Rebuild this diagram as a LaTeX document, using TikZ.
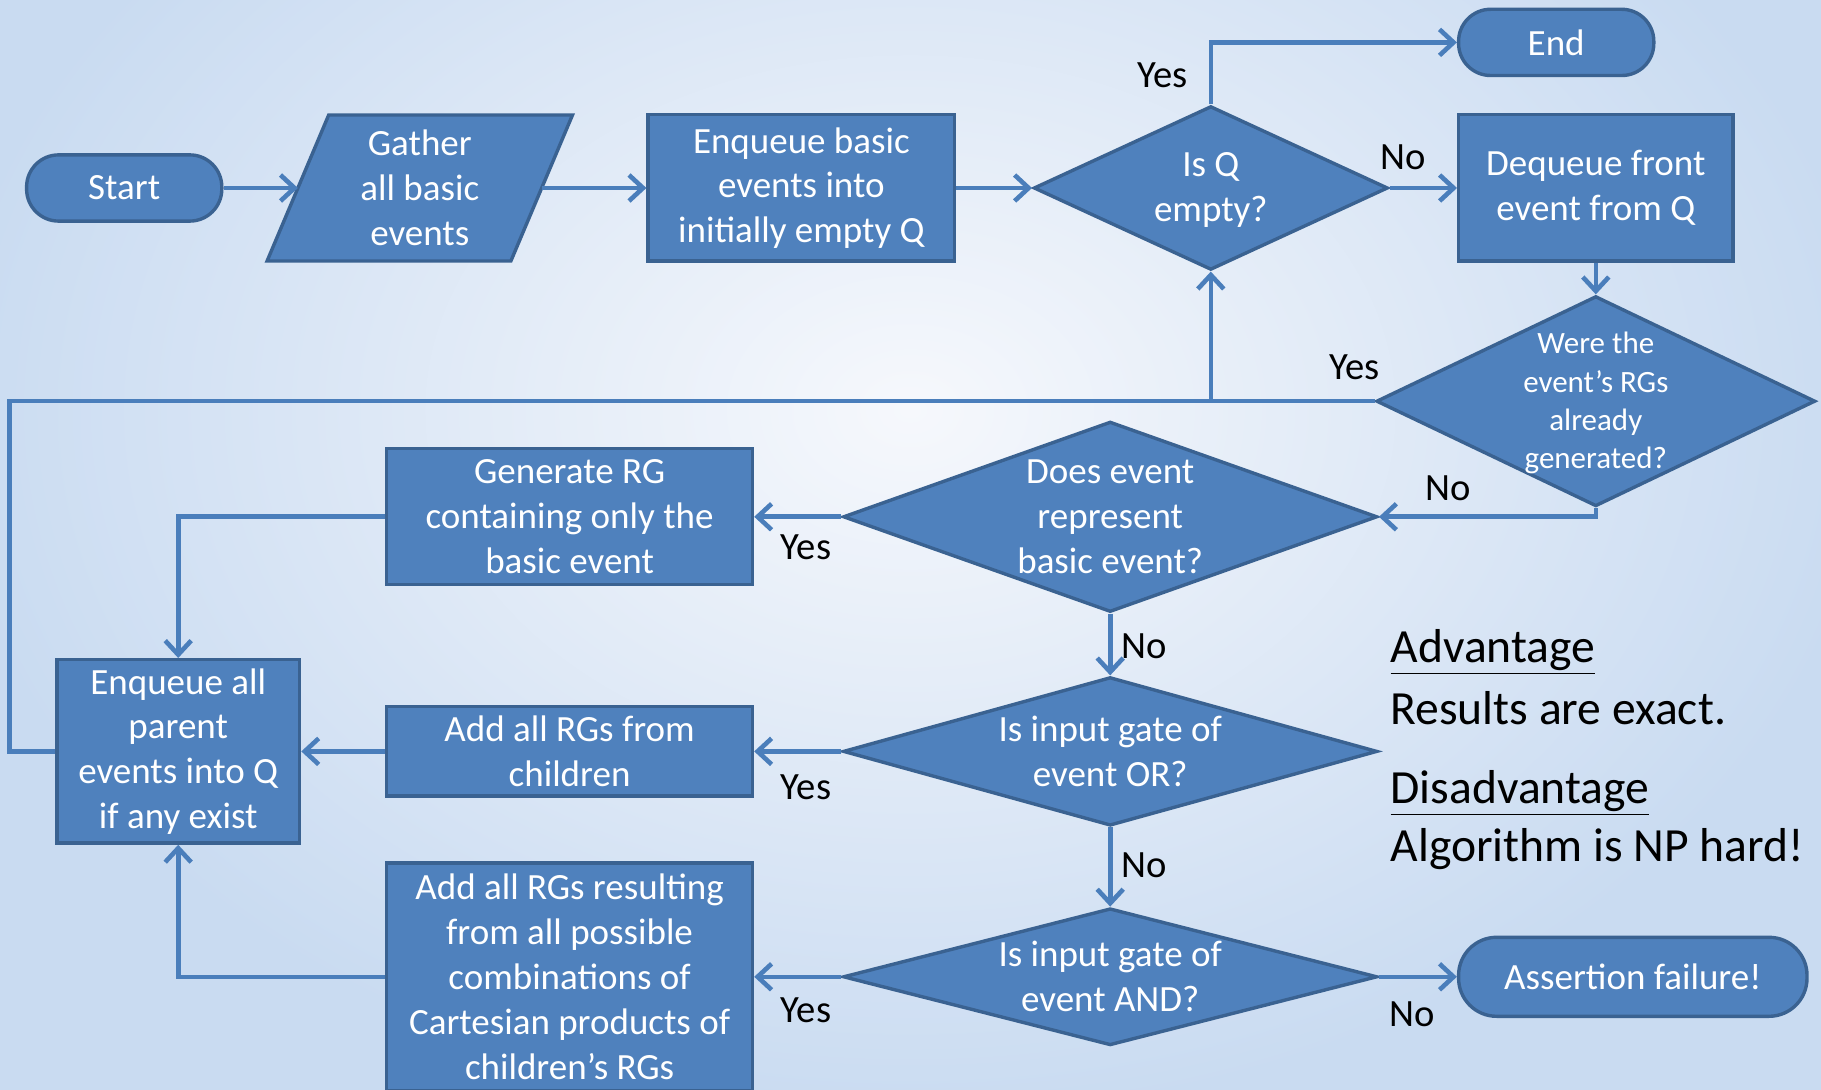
\documentclass[tikz,border=0pt]{standalone}
\usepackage{fontspec}
\setmainfont{Carlito}
\usetikzlibrary{shapes.geometric,arrows.meta,calc}
\pgfdeclarelayer{background}
\pgfsetlayers{background,main}

\definecolor{boxfill}{HTML}{4F81BD}
\definecolor{boxline}{HTML}{3A6291}
\definecolor{connline}{HTML}{4A7EBB}
\definecolor{bgedge}{HTML}{C9DBF1}
\definecolor{bgmid}{HTML}{F6F8FC}

\tikzset{
  box/.style={rectangle, draw=boxline, fill=boxfill, line width=1.7pt,
    text=white, align=center, inner sep=0pt,
    font=\fontsize{18.5}{22.4}\selectfont},
  term/.style={box, rounded corners=16pt},
  decision/.style={diamond, draw=boxline, fill=boxfill, line width=1.7pt,
    inner sep=0pt},
  dtxt/.style={text=white, align=center, inner sep=0pt,
    font=\fontsize{18.5}{22.4}\selectfont},
  dsmall/.style={dtxt, font=\fontsize{15.5}{19.2}\selectfont},
  conn/.style={draw=connline, line width=2.3pt},
  arr/.style={conn, -{Straight Barb[length=7pt,width=13pt]}},
  ans/.style={text=black, inner sep=0pt, font=\fontsize{19.3}{22}\selectfont},
  note/.style={text=black, inner sep=0pt, anchor=west,
    font=\fontsize{23.8}{28}\selectfont}
}

\begin{document}
\begin{tikzpicture}[x=1pt,y=-1pt]
\useasboundingbox (0,0) rectangle (910.5,545);
\begin{pgfonlayer}{background}
  \shade[inner color=bgmid, outer color=bgedge] (-30,-150) rectangle (940,560);
\end{pgfonlayer}

% top row
\node[term, minimum width=97.6pt, minimum height=33.1pt] (start) at (62.1,94.0) {Start};
\node[inner sep=0pt, outer sep=0pt, minimum width=121.9pt, minimum height=73pt,
      text=white, align=center, font=\fontsize{18.5}{22.4}\selectfont]
      (gather) at (209.9,94.0) {Gather\\all basic\\events};
\begin{pgfonlayer}{background}
  \filldraw[draw=boxline, fill=boxfill, line width=1.7pt]
    ([xshift=15.4pt]gather.north west) -- ([xshift=15.4pt]gather.north east)
    -- ([xshift=-15.4pt]gather.south east) -- ([xshift=-15.4pt]gather.south west) -- cycle;
\end{pgfonlayer}
\node[box, minimum width=153.3pt, minimum height=73.2pt] (enq) at (400.7,94.0)
  {Enqueue basic\\events into\\initially empty Q};
\node[decision, minimum width=177.1pt, minimum height=81.9pt,
      label={[dtxt, yshift=-1pt]center:{Is Q\\empty?}}] (isq) at (605.4,94.0) {};
\node[term, minimum width=97.6pt, minimum height=33.1pt] (end) at (778.1,21.2) {End};
\node[box, minimum width=137.1pt, minimum height=73.2pt] (deq) at (797.9,94.0)
  {Dequeue front\\event from Q};

% decisions
\node[decision, minimum width=219.5pt, minimum height=105.1pt,
      label={[dsmall, yshift=-1pt]center:{Were the\\event’s RGs\\already\\generated?}}] (were) at (797.9,200.6) {};
\node[decision, minimum width=267.1pt, minimum height=95.2pt,
      label={[dtxt]center:{Does event\\represent\\basic event?}}] (does) at (555.1,258.4) {};
\node[decision, minimum width=267.1pt, minimum height=74.3pt,
      label={[dtxt]center:{Is input gate of\\event OR?}}] (isor) at (555.1,375.7) {};
\node[decision, minimum width=267.1pt, minimum height=68.5pt,
      label={[dtxt]center:{Is input gate of\\event AND?}}] (isand) at (555.1,488.4) {};

% actions
\node[box, minimum width=182.9pt, minimum height=68pt] (gen) at (284.8,258.4)
  {Generate RG\\containing only the\\basic event};
\node[box, minimum width=182.9pt, minimum height=44.7pt] (addc) at (284.8,375.7)
  {Add all RGs from\\children};
\node[box, minimum width=182.9pt, minimum height=114pt] (addr) at (284.8,488.4)
  {Add all RGs resulting\\from all possible\\combinations of\\Cartesian products of\\children’s RGs};
\node[box, minimum width=121.4pt, minimum height=91.7pt] (parent) at (89.1,375.7)
  {Enqueue all\\parent\\events into Q\\if any exist};
\node[term, rounded corners=19pt, minimum width=174.2pt, minimum height=39.5pt] (fail) at (816.4,488.4)
  {Assertion failure!};

% connectors
\draw[arr] (start.east) -- (gather.west);
\draw[arr] (gather.east) -- (enq.west);
\draw[arr] (enq.east) -- (isq.west);
\draw[arr] (isq.east) -- (deq.west);
\draw[arr] (isq.north) |- (end.west);
\draw[arr] (deq.south) -- (were.north);
\draw[arr] (were.south) |- (does.east);
\draw[conn] (parent.west) -| (4.6,200.6) -- (were.west);
\coordinate (loopjoin) at (isq.south |- were.west);
\draw[arr] (loopjoin) -- (isq.south);
\draw[arr] (does.west) -- (gen.east);
\draw[arr] (gen.west) -| (parent.north);
\draw[arr] (does.south) -- (isor.north);
\draw[arr] (isor.west) -- (addc.east);
\draw[arr] (addc.west) -- (parent.east);
\draw[arr] (isor.south) -- (isand.north);
\draw[arr] (isand.west) -- (addr.east);
\draw[arr] (addr.west) -| (parent.south);
\draw[arr] (isand.east) -- (fail.west);

% branch labels
\node[ans] (l1) at (581.3,37.7) {Yes};
\node[ans] (l2) at (701.5,78.4) {No};
\node[ans] (l3) at (677.1,183.5) {Yes};
\node[ans] (l4) at (724.1,243.9) {No};
\node[ans] (l5) at (403.0,273.5) {Yes};
\node[ans] (l6) at (572.0,322.9) {No};
\node[ans] (l7) at (403.0,393.7) {Yes};
\node[ans] (l8) at (572.0,432.6) {No};
\node[ans] (l9) at (403.0,505.2) {Yes};
\node[ans] (l10) at (706.1,506.9) {No};

% notes
\node[note] (adv) at (695.1,326.0) {\underline{Advantage}};
\node[note] (advt) at (695.1,354.0) {Results are exact.};
\node[note] (dis) at (695.1,396.5) {\underline{Disadvantage}};
\node[note] (dist) at (695.1,424.5) {Algorithm is NP hard!};
\end{tikzpicture}
\end{document}
